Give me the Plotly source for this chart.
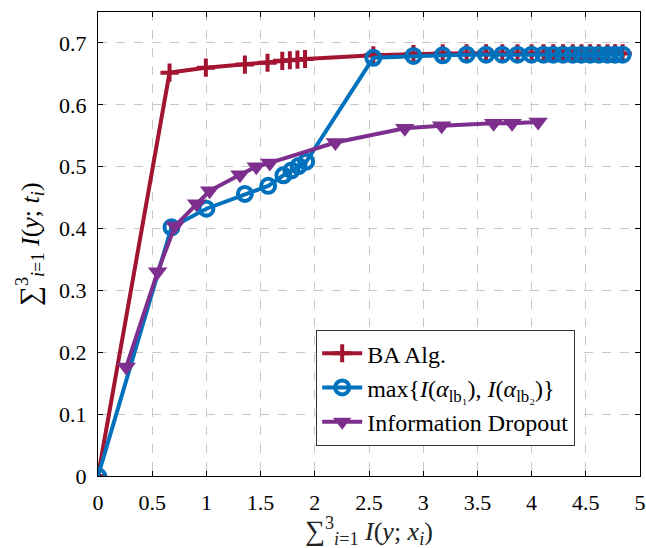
import plotly.graph_objects as go

ba_x = [0, 0.66, 0.995, 1.355, 1.564, 1.70, 1.77, 1.84, 1.91, 2.54, 2.91, 3.18, 3.40, 3.58, 3.73, 3.87, 4.00, 4.11, 4.20, 4.29, 4.38, 4.46, 4.54, 4.62, 4.70, 4.77, 4.84]
ba_y = [0, 0.652, 0.660, 0.665, 0.668, 0.671, 0.672, 0.673, 0.674, 0.680, 0.682, 0.683, 0.683, 0.683, 0.683, 0.683, 0.683, 0.683, 0.683, 0.683, 0.683, 0.683, 0.683, 0.683, 0.683, 0.683, 0.683]

mx_x = [0, 0.678, 1.0, 1.355, 1.57, 1.71, 1.785, 1.85, 1.92, 2.54, 2.91, 3.18, 3.40, 3.58, 3.73, 3.87, 4.00, 4.11, 4.20, 4.29, 4.38, 4.46, 4.54, 4.62, 4.70, 4.77, 4.84]
mx_y = [0, 0.402, 0.432, 0.456, 0.469, 0.486, 0.494, 0.501, 0.508, 0.676, 0.679, 0.680, 0.681, 0.681, 0.681, 0.681, 0.681, 0.681, 0.681, 0.681, 0.681, 0.681, 0.681, 0.681, 0.681, 0.681, 0.681]

id_x = [0.26, 0.55, 0.71, 0.91, 1.03, 1.31, 1.46, 1.585, 2.19, 2.83, 3.17, 3.65, 3.82, 4.06]
id_y = [0.176, 0.330, 0.404, 0.440, 0.461, 0.487, 0.500, 0.506, 0.539, 0.562, 0.566, 0.570, 0.570, 0.572]

x_ticks = [0, 0.5, 1, 1.5, 2, 2.5, 3, 3.5, 4, 4.5, 5]
y_ticks = [0, 0.1, 0.2, 0.3, 0.4, 0.5, 0.6, 0.7]

RED = "#A2142F"
BLUE = "#0072BD"
PURPLE = "#7E2F8E"
FONT = "Liberation Serif"

fig = go.Figure()
fig.add_trace(go.Scatter(
    x=ba_x, y=ba_y, mode="lines+markers", name="BA Alg.",
    line=dict(color=RED, width=4),
    marker=dict(symbol="cross-thin", size=13, line=dict(color=RED, width=4), color=RED),
))
fig.add_trace(go.Scatter(
    x=mx_x, y=mx_y, mode="lines+markers",
    name="max{<i>I</i>(<i>α</i><sub>lb₁</sub>), <i>I</i>(<i>α</i><sub>lb₂</sub>)}",
    line=dict(color=BLUE, width=4),
    marker=dict(symbol="circle-open", size=14, line=dict(color=BLUE, width=4), color=BLUE),
))
fig.add_trace(go.Scatter(
    x=id_x, y=id_y, mode="lines+markers", name="Information Dropout",
    line=dict(color=PURPLE, width=4),
    marker=dict(symbol="triangle-down", size=17, color=PURPLE),
))

axis_common = dict(
    showline=True, linecolor="black", linewidth=1.2, mirror="ticks",
    ticks="inside", ticklen=5, tickcolor="black", automargin=False,
    showgrid=True, gridcolor="#c8c8c8", griddash="dash", gridwidth=1,
    zeroline=False, tickfont=dict(family=FONT, size=22, color="black"),
    ticklabelstandoff=6, ticklabeloverflow="allow",
)

fig.update_layout(
    width=646, height=548,
    margin=dict(l=98, r=6, t=12, b=72),
    paper_bgcolor="white", plot_bgcolor="white",
    font=dict(family=FONT, size=22, color="black"),
    xaxis=dict(range=[0, 5], tickvals=x_ticks, ticktext=[f"{v:g}" for v in x_ticks], **axis_common),
    yaxis=dict(range=[0, 0.75], tickvals=y_ticks, ticktext=[f"{v:g}" for v in y_ticks], **axis_common),
    legend=dict(x=0.402, y=0.315, xanchor="left", yanchor="top",
                bgcolor="white", bordercolor="#333", borderwidth=1.3,
                font=dict(family=FONT, size=24), tracegroupgap=0, itemwidth=40),
    showlegend=True,
    annotations=[
        dict(text="<span style='font-size:28px'>∑</span><sup>3</sup><sub><i>i</i>=1</sub> <i>I</i>(<i>y</i>; <i>x<sub>i</sub></i>)",
             xref="paper", yref="paper", x=0.5, y=0, yshift=-55, xanchor="center", yanchor="middle",
             showarrow=False, font=dict(family=FONT, size=26, color="#222")),
        dict(text="<span style='font-size:28px'>∑</span><sup>3</sup><sub><i>i</i>=1</sub> <i>I</i>(<i>y</i>; <i>t<sub>i</sub></i>)",
             xref="paper", yref="paper", x=0, xshift=-68, y=0.5, xanchor="center", yanchor="middle",
             textangle=-90, showarrow=False, font=dict(family=FONT, size=26, color="black")),
    ],
)

fig.write_html("out.html",
               config={"displayModeBar": False},
               post_script="document.body.style.margin='0';document.body.style.overflow='hidden';")
